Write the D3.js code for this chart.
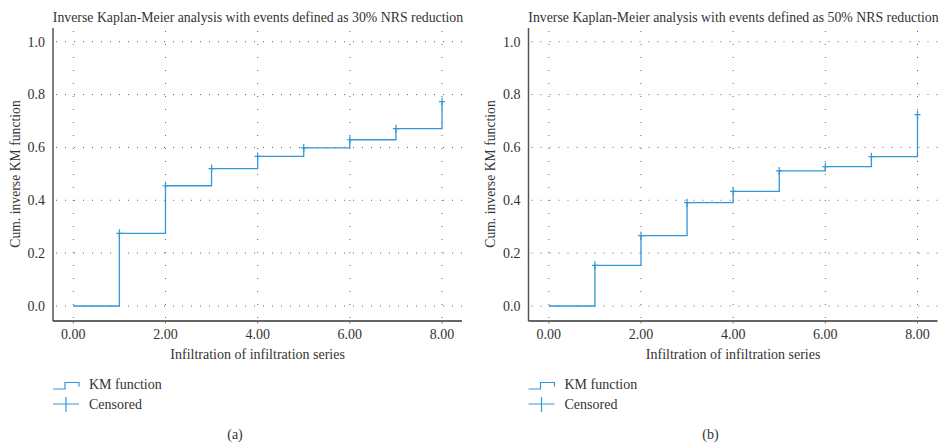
<!DOCTYPE html>
<html>
<head>
<meta charset="utf-8">
<script src="https://cdn.jsdelivr.net/npm/d3@7"></script>
<style>
  body { margin: 0; background: #fff; }
  text { font-family: "Liberation Serif", "DejaVu Serif", serif; fill: #333; }
</style>
</head>
<body>
<div id="chart"></div>
<script>
(function(){

  // values
  var times = [0, 1, 2, 3, 4, 5, 6, 7, 8]
  var km30 = [0, 0.275, 0.455, 0.52, 0.566, 0.598, 0.629, 0.671, 0.773]
  var km50 = [0, 0.154, 0.266, 0.391, 0.434, 0.511, 0.527, 0.565, 0.724]
  var censoredTimes = [1, 2, 3, 4, 5, 6, 7, 8]
  var xTicks = [0, 2, 4, 6, 8]
  var yTicks = [0, 0.2, 0.4, 0.6, 0.8, 1.0]
  var titles = [
    "Inverse Kaplan-Meier analysis with events defined as 30% NRS reduction",
    "Inverse Kaplan-Meier analysis with events defined as 50% NRS reduction"
  ]
  var panelLabels = ["(a)", "(b)"]
  var legendLabels = ["KM function", "Censored"]

  var width = 940, height = 446
  var lineColor = "#3597d6"

  var svg = d3.select("#chart").append("svg")
      .attr("width", width)
      .attr("height", height)

  var f1 = d3.format(".1f"), f2 = d3.format(".2f")

  function drawPanel(offsetX, values, title, label){
    var g = svg.append("g").attr("transform", "translate(" + offsetX + ",0)")

    var axisLeft = 53, axisRight = 462, axisTop = 28, axisBottom = 321
    var x = d3.scaleLinear().domain([0, 8]).range([73.3, 442])
    var y = d3.scaleLinear().domain([0, 1]).range([306, 41.7])

    // dotted grid
    g.selectAll(".hgrid").data(yTicks).enter().append("line")
      .attr("x1", axisLeft + 3).attr("x2", axisRight)
      .attr("y1", function(d){ return y(d) }).attr("y2", function(d){ return y(d) })
      .attr("stroke", "#666").attr("stroke-width", 1)
      .attr("stroke-dasharray", "1,8")

    g.selectAll(".vgrid").data(xTicks).enter().append("line")
      .attr("x1", function(d){ return x(d) }).attr("x2", function(d){ return x(d) })
      .attr("y1", axisTop + 3).attr("y2", axisBottom)
      .attr("stroke", "#666").attr("stroke-width", 1)
      .attr("stroke-dasharray", "1,12")

    // axes lines
    g.append("line")
      .attr("x1", axisLeft).attr("x2", axisLeft)
      .attr("y1", axisTop).attr("y2", axisBottom)
      .attr("stroke", "#555").attr("stroke-width", 1.5)
    g.append("line")
      .attr("x1", axisLeft).attr("x2", axisRight)
      .attr("y1", axisBottom).attr("y2", axisBottom)
      .attr("stroke", "#333").attr("stroke-width", 1.5)

    g.selectAll(".xtick").data(xTicks).enter().append("line")
      .attr("x1", function(d){ return x(d) }).attr("x2", function(d){ return x(d) })
      .attr("y1", axisBottom).attr("y2", axisBottom + 2.5)
      .attr("stroke", "#555").attr("stroke-width", 0.8)

    // tick labels
    g.selectAll(".ylab").data(yTicks).enter().append("text")
      .attr("x", axisLeft - 8)
      .attr("y", function(d){ return y(d) })
      .attr("dy", "0.35em")
      .attr("text-anchor", "end")
      .style("font-size", "14px")
      .text(function(d){ return f1(d) })

    g.selectAll(".xlab").data(xTicks).enter().append("text")
      .attr("x", function(d){ return x(d) })
      .attr("y", 334)
      .attr("dy", "0.35em")
      .attr("text-anchor", "middle")
      .style("font-size", "14px")
      .text(function(d){ return f2(d) })

    // titles
    g.append("text")
      .attr("x", (axisLeft + axisRight) / 2 + 0.5)
      .attr("y", 17)
      .attr("dy", "0.35em")
      .attr("text-anchor", "middle")
      .style("font-size", "13.8px")
      .text(title)

    g.append("text")
      .attr("x", (x.range()[0] + x.range()[1]) / 2)
      .attr("y", 354)
      .attr("dy", "0.35em")
      .attr("text-anchor", "middle")
      .style("font-size", "14px")
      .text("Infiltration of infiltration series")

    g.append("text")
      .attr("transform", "translate(15,174) rotate(-90)")
      .attr("dy", "0.35em")
      .attr("text-anchor", "middle")
      .style("font-size", "13.7px")
      .text("Cum. inverse KM function")

    // KM step line
    var pts = times.map(function(t, i){ return [t, values[i]] })
    var line = d3.line()
      .x(function(d){ return x(d[0]) })
      .y(function(d){ return y(d[1]) })
      .curve(d3.curveStepAfter)

    g.append("path")
      .datum(pts)
      .attr("d", line)
      .attr("fill", "none")
      .attr("stroke", lineColor)
      .attr("stroke-width", 1.3)

    // censored marks
    var cens = censoredTimes.map(function(t){ return [t, values[times.indexOf(t)]] })
    g.selectAll(".cens").data(cens).enter().append("path")
      .attr("d", function(d){
        var cx = x(d[0]), cy = y(d[1])
        return "M" + (cx - 3) + "," + cy + "H" + (cx + 3) + "M" + cx + "," + (cy - 4) + "V" + (cy + 4)
      })
      .attr("stroke", lineColor)
      .attr("stroke-width", 1.2)
      .attr("fill", "none")

    // legend
    var lg = g.append("g")
    lg.append("path")
      .attr("d", "M53,389H65V382.5H79V386.5")
      .attr("fill", "none")
      .attr("stroke", lineColor)
      .attr("stroke-width", 1.2)
    lg.append("text")
      .attr("x", 89).attr("y", 384).attr("dy", "0.35em")
      .style("font-size", "14px")
      .text(legendLabels[0])
    lg.append("path")
      .attr("d", "M53,404H79M66,397V412")
      .attr("fill", "none")
      .attr("stroke", lineColor)
      .attr("stroke-width", 1.2)
    lg.append("text")
      .attr("x", 89).attr("y", 404).attr("dy", "0.35em")
      .style("font-size", "14px")
      .text(legendLabels[1])

    g.append("text")
      .attr("x", 235)
      .attr("y", 434)
      .attr("dy", "0.35em")
      .attr("text-anchor", "middle")
      .style("font-size", "14px")
      .text(label)
  }

  drawPanel(0, km30, titles[0], panelLabels[0])
  drawPanel(475.5, km50, titles[1], panelLabels[1])

})()
</script>
</body>
</html>
